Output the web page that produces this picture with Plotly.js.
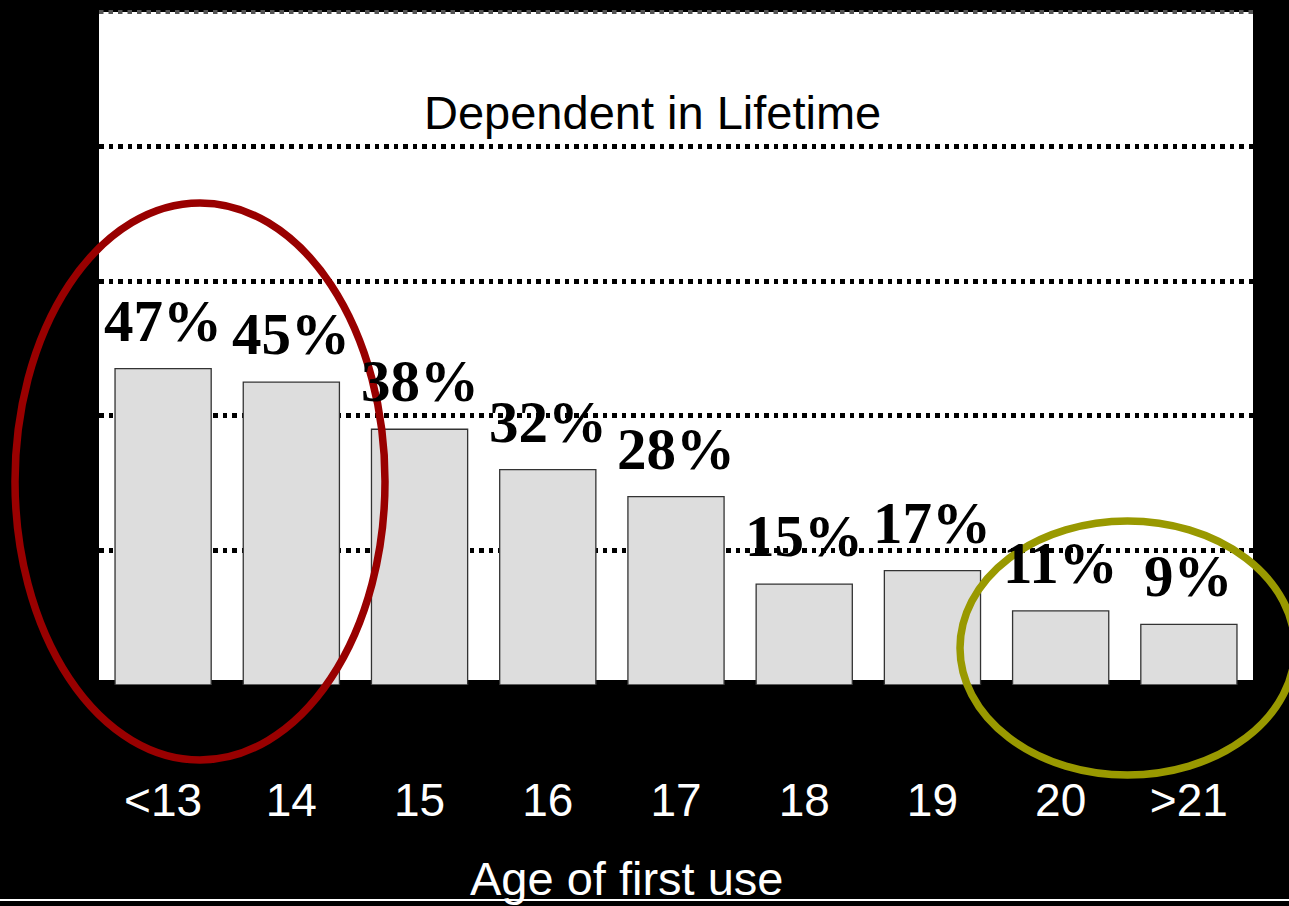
<!DOCTYPE html>
<html>
<head>
<meta charset="utf-8">
<script src="https://cdn.plot.ly/plotly-3.0.1.min.js"></script>
<style>html,body{margin:0;padding:0;background:#000;}#chart{width:1289px;height:906px;}</style>
</head>
<body>
<div id="chart"></div>
<script>
// Data
const ages = ['<13', '14', '15', '16', '17', '18', '19', '20', '>21'];
const dependentPct = [47, 45, 38, 32, 28, 15, 17, 11, 9];
const valueLabels = ['47%', '45%', '38%', '32%', '28%', '15%', '17%', '11%', '9%'];
const yTicks = [0, 20, 40, 60, 80, 100];
const chartTitle = 'Dependent in Lifetime';
const xTitle = 'Age of first use';

const W = 1289, H = 906;
const L = 99, R = 1253, T = 12, B = 685;
const px = x => (x - L) / (R - L);
const py = y => (B - y) / (B - T);
const idx = ages.map((a, i) => i);

const trace = {
  type: 'bar',
  x: idx,
  y: dependentPct,
  marker: {color: '#dddddd', line: {color: '#333333', width: 1.3}},
  hoverinfo: 'skip'
};

const labelAnns = idx.map(i => ({
  x: i, y: dependentPct[i], xref: 'x', yref: 'y',
  text: valueLabels[i], showarrow: false,
  xanchor: 'center', yanchor: 'bottom', yshift: 13,
  font: {family: 'Liberation Serif, Times New Roman, serif', size: 59, color: '#000', weight: 'bold'}
}));

const layout = {
  width: W, height: H,
  margin: {l: L, r: W - R, t: T, b: H - B, pad: 0},
  paper_bgcolor: '#000000',
  plot_bgcolor: '#000000',
  showlegend: false,
  bargap: 0.25,
  font: {family: 'Liberation Sans, Arial, sans-serif', color: '#ffffff'},
  xaxis: {
    type: 'linear',
    range: [-0.5, ages.length - 0.5],
    tickmode: 'array',
    tickvals: idx,
    ticktext: ages.map(a => a.replace('<', '&lt;').replace('>', '&gt;')),
    showgrid: false, zeroline: false, showline: false,
    ticks: '',
    ticklabelstandoff: 84,
    tickfont: {family: 'Liberation Sans, Arial, sans-serif', size: 46, color: '#ffffff'},
    fixedrange: true
  },
  yaxis: {
    range: [0, 100],
    tickvals: yTicks,
    showticklabels: false,
    showgrid: true,
    gridcolor: '#000000',
    gridwidth: 5,
    griddash: '4.5px,5px',
    zeroline: false, showline: false, ticks: '',
    fixedrange: true
  },
  shapes: [
    {type: 'rect', xref: 'paper', yref: 'paper', x0: 0, x1: 1, y0: py(680), y1: 1,
     fillcolor: '#ffffff', line: {width: 0}, layer: 'below'},
    {type: 'line', xref: 'paper', yref: 'paper', x0: 0, x1: 1, y0: 1, y1: 1,
     line: {color: '#555555', width: 4, dash: '4.5px,5px'}, layer: 'below'},
    {type: 'circle', xref: 'paper', yref: 'paper', x0: px(15), x1: px(385), y0: py(760), y1: py(203),
     line: {color: '#990000', width: 7.5}, layer: 'above'},
    {type: 'circle', xref: 'paper', yref: 'paper', x0: px(960), x1: px(1295), y0: py(775), y1: py(521),
     line: {color: '#999900', width: 7.5}, layer: 'above'},
    {type: 'line', xref: 'paper', yref: 'paper', x0: px(0), x1: px(W), y0: py(900), y1: py(900),
     line: {color: '#ffffff', width: 2}, layer: 'above'}
  ],
  annotations: labelAnns.concat([
    {text: chartTitle, xref: 'paper', yref: 'paper', x: px(652), y: py(112),
     xanchor: 'center', yanchor: 'middle', showarrow: false,
     font: {family: 'Liberation Sans, Arial, sans-serif', size: 47, color: '#000000'}},
    {text: xTitle, xref: 'paper', yref: 'paper', x: px(627), y: py(879),
     xanchor: 'center', yanchor: 'middle', showarrow: false,
     font: {family: 'Liberation Sans, Arial, sans-serif', size: 47, color: '#ffffff'}}
  ])
};

Plotly.newPlot('chart', [trace], layout, {displayModeBar: false, staticPlot: true});
</script>
</body>
</html>
